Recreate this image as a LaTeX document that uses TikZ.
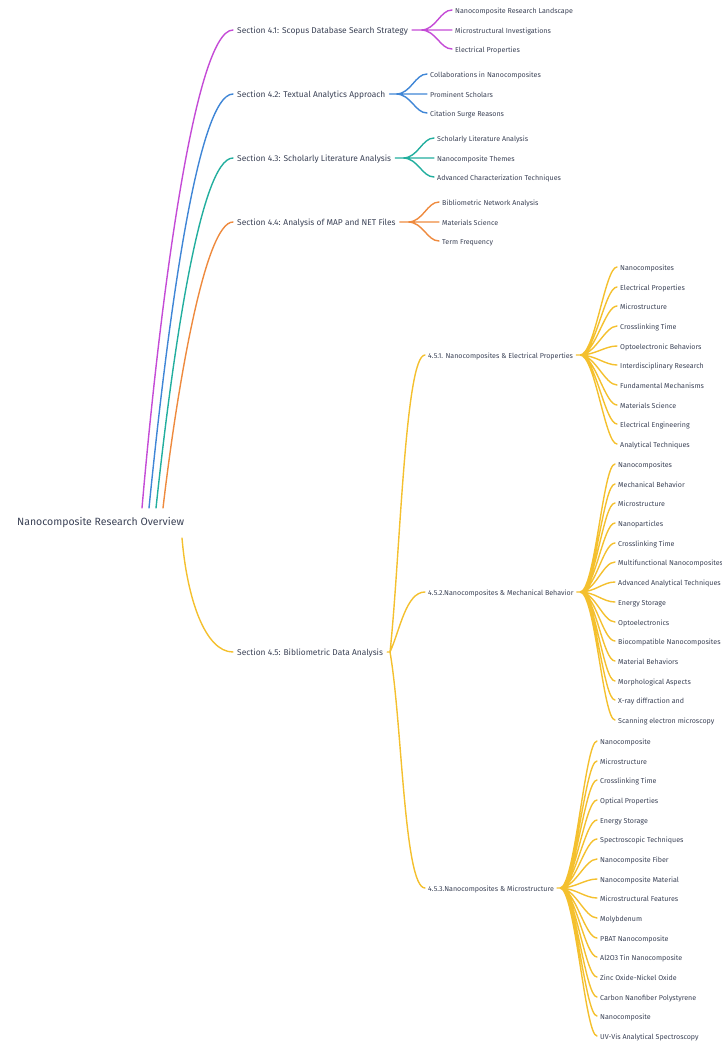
\documentclass[tikz,border=0pt]{standalone}
\usepackage{fontspec}
\setmainfont{Fira Sans}
\usepackage{tikz}
\definecolor{ink}{HTML}{3B4256}
\definecolor{mag}{HTML}{C44BD6}
\definecolor{blu}{HTML}{3F86D6}
\definecolor{tea}{HTML}{22AE9E}
\definecolor{ora}{HTML}{EE8A3E}
\definecolor{yel}{HTML}{F4C02E}
\tikzset{
  sec/.style={anchor=west, inner xsep=4pt, inner ysep=0pt, text=ink,
    text height=1.6ex, text depth=.45ex, font=\fontsize{8.4}{10}\selectfont},
  leaf/.style={anchor=west, inner xsep=3pt, inner ysep=0pt, text=ink,
    text height=1.6ex, text depth=.45ex, font=\fontsize{7.1}{8.5}\selectfont},
  twig/.style={to path={.. controls +(15,0) and +(-12,0) .. (\tikztotarget)}},
  wire/.style={line width=1.4pt, line cap=round}
}

\begin{document}
\begin{tikzpicture}[x=1pt,y=1pt]
          \useasboundingbox (0,0) rectangle (722,-1044);
          % root
          \node (root) at (17,-523) [anchor=west, inner sep=0pt, text=ink, font=\fontsize{10.5}{12}\selectfont] {Nanocomposite Research Overview};
          \coordinate (r1) at (142,-508);
          \coordinate (r2) at (149,-508);
          \coordinate (r3) at (156,-508);
          \coordinate (r4) at (163,-508);
          \coordinate (r5) at (182,-538);
          % sections
          \node (s1) at (233,-30) [sec] {Section 4.1: Scopus Database Search Strategy};
          \node (s2) at (233,-94) [sec] {Section 4.2: Textual Analytics Approach};
          \node (s3) at (233,-158) [sec] {Section 4.3: Scholarly Literature Analysis};
          \node (s4) at (233,-222) [sec] {Section 4.4: Analysis of MAP and NET Files};
          \node (s5) at (233,-652) [sec] {Section 4.5: Bibliometric Data Analysis};
          \coordinate (j1) at (421,-30);
          \coordinate (j2) at (396,-94);
          \coordinate (j3) at (403,-158);
          \coordinate (j4) at (408,-222);
          \coordinate (j5) at (390,-652);
          % 4.1 -- 4.4
          \node (a1) at (452,-10) [leaf] {Nanocomposite Research Landscape};
          \node (a2) at (452,-30) [leaf] {Microstructural Investigations};
          \node (a3) at (452,-49) [leaf] {Electrical Properties};
          \node (b1) at (427,-74) [leaf] {Collaborations in Nanocomposites};
          \node (b2) at (427,-94) [leaf] {Prominent Scholars};
          \node (b3) at (427,-113) [leaf] {Citation Surge Reasons};
          \node (c1) at (434,-138) [leaf] {Scholarly Literature Analysis};
          \node (c2) at (434,-158) [leaf] {Nanocomposite Themes};
          \node (c3) at (434,-177) [leaf] {Advanced Characterization Techniques};
          \node (d1) at (439,-202) [leaf] {Bibliometric Network Analysis};
          \node (d2) at (439,-222) [leaf] {Materials Science};
          \node (d3) at (439,-241) [leaf] {Term Frequency};
          % 4.5 subsections
          \node (t1) at (425,-355) [leaf] {4.5.1. Nanocomposites \& Electrical Properties};
          \node (t2) at (425,-592) [leaf] {4.5.2.Nanocomposites \& Mechanical Behavior};
          \node (t3) at (425,-888) [leaf] {4.5.3.Nanocomposites \& Microstructure};
          \coordinate (k1) at (580,-355);
          \coordinate (k2) at (580,-592);
          \coordinate (k3) at (560,-888);
          % 4.5.1
          \node (e1) at (617,-267) [leaf] {Nanocomposites};
          \node (e2) at (617,-287) [leaf] {Electrical Properties};
          \node (e3) at (617,-306) [leaf] {Microstructure};
          \node (e4) at (617,-326) [leaf] {Crosslinking Time};
          \node (e5) at (617,-346) [leaf] {Optoelectronic Behaviors};
          \node (e6) at (617,-365) [leaf] {Interdisciplinary Research};
          \node (e7) at (617,-385) [leaf] {Fundamental Mechanisms};
          \node (e8) at (617,-405) [leaf] {Materials Science};
          \node (e9) at (617,-424) [leaf] {Electrical Engineering};
          \node (e10) at (617,-444) [leaf] {Analytical Techniques};
          % 4.5.2
          \node (f1) at (615,-464) [leaf] {Nanocomposites};
          \node (f2) at (615,-484) [leaf] {Mechanical Behavior};
          \node (f3) at (615,-503) [leaf] {Microstructure};
          \node (f4) at (615,-523) [leaf] {Nanoparticles};
          \node (f5) at (615,-543) [leaf] {Crosslinking Time};
          \node (f6) at (615,-562) [leaf] {Multifunctional Nanocomposites};
          \node (f7) at (615,-582) [leaf] {Advanced Analytical Techniques};
          \node (f8) at (615,-602) [leaf] {Energy Storage};
          \node (f9) at (615,-622) [leaf] {Optoelectronics};
          \node (f10) at (615,-641) [leaf] {Biocompatible Nanocomposites};
          \node (f11) at (615,-661) [leaf] {Material Behaviors};
          \node (f12) at (615,-681) [leaf] {Morphological Aspects};
          \node (f13) at (615,-700) [leaf] {X-ray diffraction and};
          \node (f14) at (615,-720) [leaf] {Scanning electron microscopy};
          % 4.5.3
          \node (g1) at (597,-741) [leaf] {Nanocomposite};
          \node (g2) at (597,-761) [leaf] {Microstructure};
          \node (g3) at (597,-780) [leaf] {Crosslinking Time};
          \node (g4) at (597,-800) [leaf] {Optical Properties};
          \node (g5) at (597,-820) [leaf] {Energy Storage};
          \node (g6) at (597,-839) [leaf] {Spectroscopic Techniques};
          \node (g7) at (597,-859) [leaf] {Nanocomposite Fiber};
          \node (g8) at (597,-879) [leaf] {Nanocomposite Material};
          \node (g9) at (597,-898) [leaf] {Microstructural Features};
          \node (g10) at (597,-918) [leaf] {Molybdenum};
          \node (g11) at (597,-938) [leaf] {PBAT Nanocomposite};
          \node (g12) at (597,-957) [leaf] {Al2O3 Tin Nanocomposite};
          \node (g13) at (597,-977) [leaf] {Zinc Oxide-Nickel Oxide};
          \node (g14) at (597,-997) [leaf] {Carbon Nanofiber Polystyrene};
          \node (g15) at (597,-1016) [leaf] {Nanocomposite};
          \node (g16) at (597,-1036) [leaf] {UV-Vis Analytical Spectroscopy};
          % root to sections
          \draw[wire, mag] (r1) .. controls +(18,208) and +(-38,0) .. (s1.west);
          \draw[wire, blu] (r2) .. controls +(18,180) and +(-36,0) .. (s2.west);
          \draw[wire, tea] (r3) .. controls +(16,150) and +(-33,0) .. (s3.west);
          \draw[wire, ora] (r4) .. controls +(14,120) and +(-28,0) .. (s4.west);
          \draw[wire, yel] (r5) .. controls +(5,-60) and +(-28,0) .. (s5.west);
          % sections to leaves
          \draw[wire, mag] (s1.east) -- (j1)
          (j1) to[twig] (a1.west) (j1) to[twig] (a2.west) (j1) to[twig] (a3.west);
          \draw[wire, blu] (s2.east) -- (j2)
          (j2) to[twig] (b1.west) (j2) to[twig] (b2.west) (j2) to[twig] (b3.west);
          \draw[wire, tea] (s3.east) -- (j3)
          (j3) to[twig] (c1.west) (j3) to[twig] (c2.west) (j3) to[twig] (c3.west);
          \draw[wire, ora] (s4.east) -- (j4)
          (j4) to[twig] (d1.west) (j4) to[twig] (d2.west) (j4) to[twig] (d3.west);
          \draw[wire, yel] (s5.east) -- (j5)
          (j5) .. controls +(10,92) and +(-20,0) .. (t1.west)
          (j5) .. controls +(10,22) and +(-19,0) .. (t2.west)
          (j5) .. controls +(12,-68) and +(-21,0) .. (t3.west);
          \draw[wire, yel] (t1.east) -- (k1)
          (k1) to[twig] (e1.west) (k1) to[twig] (e2.west) (k1) to[twig] (e3.west)
          (k1) to[twig] (e4.west) (k1) to[twig] (e5.west) (k1) to[twig] (e6.west)
          (k1) to[twig] (e7.west) (k1) to[twig] (e8.west) (k1) to[twig] (e9.west)
          (k1) to[twig] (e10.west);
          \draw[wire, yel] (t2.east) -- (k2)
          (k2) to[twig] (f1.west) (k2) to[twig] (f2.west) (k2) to[twig] (f3.west)
          (k2) to[twig] (f4.west) (k2) to[twig] (f5.west) (k2) to[twig] (f6.west)
          (k2) to[twig] (f7.west) (k2) to[twig] (f8.west) (k2) to[twig] (f9.west)
          (k2) to[twig] (f10.west) (k2) to[twig] (f11.west) (k2) to[twig] (f12.west)
          (k2) to[twig] (f13.west) (k2) to[twig] (f14.west);
          \draw[wire, yel] (t3.east) -- (k3)
          (k3) to[twig] (g1.west) (k3) to[twig] (g2.west) (k3) to[twig] (g3.west)
          (k3) to[twig] (g4.west) (k3) to[twig] (g5.west) (k3) to[twig] (g6.west)
          (k3) to[twig] (g7.west) (k3) to[twig] (g8.west) (k3) to[twig] (g9.west)
          (k3) to[twig] (g10.west) (k3) to[twig] (g11.west) (k3) to[twig] (g12.west)
          (k3) to[twig] (g13.west) (k3) to[twig] (g14.west) (k3) to[twig] (g15.west)
          (k3) to[twig] (g16.west);
        \end{tikzpicture}
\end{document}
